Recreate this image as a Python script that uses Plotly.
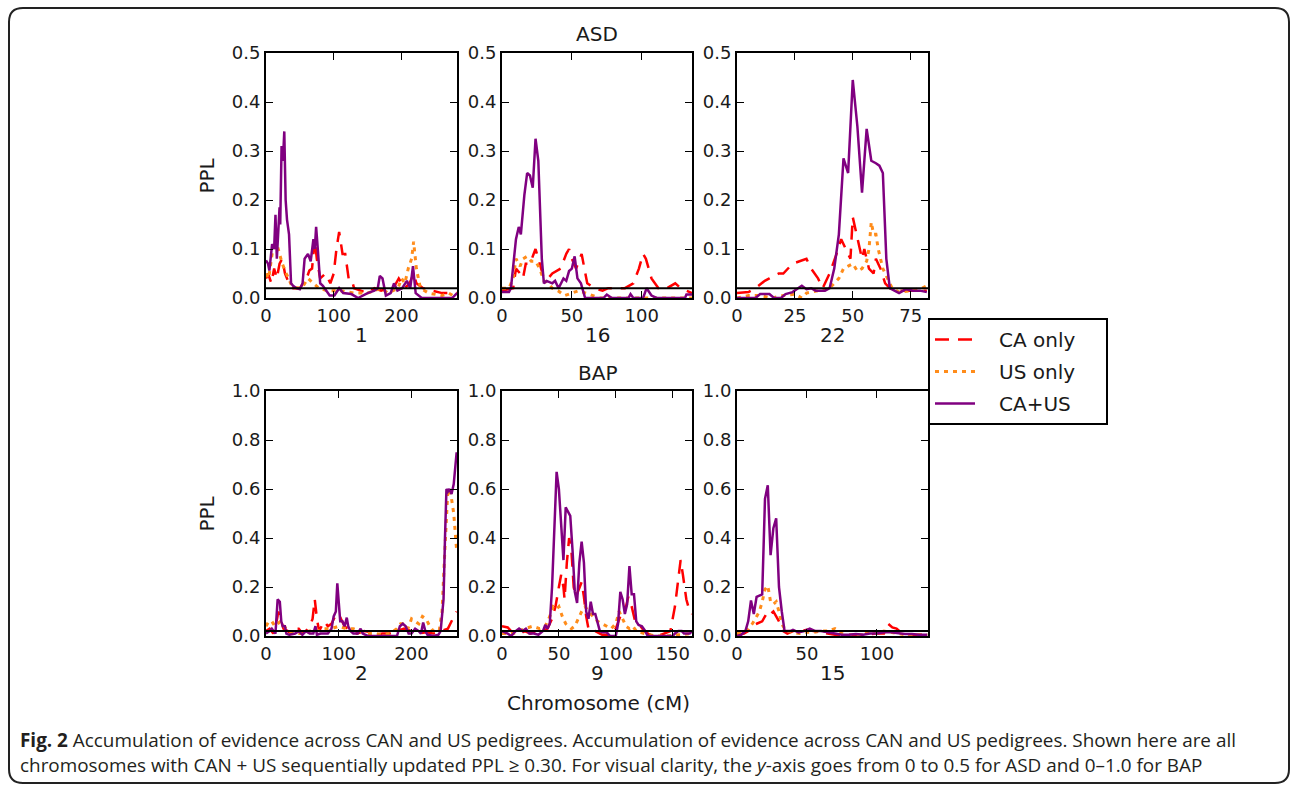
import plotly.graph_objects as go

# ---------------- data (cM, PPL) ----------------
# ASD chr1
chr1_ca = [(0,0.04),(3,0.05),(8,0.03),(12,0.06),(16,0.04),(20,0.07),(24,0.08),(28,0.05),(34,0.03),(40,0.02),
           (50,0.02),(60,0.04),(64,0.056),(68,0.06),(72,0.12),(75,0.08),(80,0.04),(88,0.05),(95,0.03),(100,0.05),
           (104,0.10),(108,0.135),(113,0.09),(117,0.09),(122,0.04),(126,0.04),(130,0.02),(140,0.015),(150,0.01),
           (160,0.02),(170,0.015),(180,0.02),(190,0.025),(196,0.04),(205,0.02),(212,0.03),(218,0.05),(222,0.03),
           (232,0.02),(245,0.015),(260,0.01),(282,0.01)]
chr1_us = [(0,0.05),(4,0.04),(10,0.10),(16,0.11),(20,0.09),(24,0.07),(30,0.05),(38,0.025),(45,0.02),(55,0.025),
           (62,0.04),(70,0.03),(78,0.02),(90,0.015),(110,0.015),(130,0.01),(150,0.01),(170,0.02),(180,0.01),
           (195,0.02),(200,0.04),(205,0.03),(210,0.06),(215,0.08),(218,0.115),(222,0.06),(228,0.02),(240,0.01),
           (260,0.005),(270,0.01),(282,0.0)]
chr1_caus = [(0,0.077),(3,0.07),(5,0.056),(9,0.11),(12,0.10),(14,0.17),(16,0.08),(18,0.15),(20,0.185),(21,0.15),
             (23,0.31),(25,0.28),(27,0.34),(29,0.20),(31,0.16),(34,0.13),(37,0.03),(40,0.025),(45,0.02),(50,0.018),
             (54,0.03),(57,0.08),(62,0.09),(66,0.075),(70,0.12),(72,0.10),(74,0.145),(77,0.09),(80,0.03),(84,0.025),
             (89,0.015),(94,0.005),(101,0.005),(108,0.02),(114,0.01),(126,0.008),(136,0.0),(150,0.01),(160,0.015),
             (165,0.02),(168,0.045),(172,0.04),(177,0.005),(184,0.01),(189,0.03),(194,0.015),(201,0.02),(208,0.035),
             (213,0.02),(217,0.065),(221,0.01),(230,0.0),(275,0.0),(282,0.01)]

# ASD chr16
chr16_ca = [(0,0.015),(8,0.02),(10,0.06),(13,0.05),(15,0.04),(17,0.07),(20,0.07),(24,0.10),(27,0.07),(30,0.04),
            (33,0.04),(36,0.05),(42,0.06),(46,0.09),(48,0.10),(50,0.08),(53,0.06),(57,0.09),(59,0.06),(61,0.03),
            (66,0.02),(72,0.015),(76,0.02),(82,0.02),(88,0.02),(94,0.03),(98,0.06),(101,0.09),(103,0.08),(107,0.04),
            (112,0.02),(118,0.02),(124,0.03),(128,0.02),(132,0.015),(136,0.01)]
chr16_us = [(0,0.02),(5,0.02),(8,0.04),(10,0.08),(13,0.065),(15,0.08),(18,0.085),(21,0.075),(24,0.075),(27,0.06),
            (30,0.035),(33,0.03),(36,0.02),(40,0.015),(45,0.005),(50,0.01),(55,0.015),(60,0.01),(70,0.0),(136,0.0)]
chr16_caus = [(0,0.012),(5,0.012),(6.4,0.02),(8,0.06),(10,0.12),(12,0.145),(13.5,0.13),(16,0.21),(18,0.255),
              (20,0.25),(22,0.225),(24,0.325),(26,0.28),(28.5,0.08),(30,0.03),(32,0.035),(36,0.03),(38,0.035),
              (40.5,0.02),(44,0.04),(46,0.035),(48,0.055),(50,0.06),(52,0.085),(54,0.04),(56.5,0.03),(59.5,0.0),
              (72.6,0.0),(75,0.007),(78.6,0.0),(90.5,0.0),(92,0.008),(94,0.0),(101,0.0),(103.5,0.02),(107,0.005),
              (110.7,0.0),(131,0.0),(132,0.007),(136,0.007)]

# ASD chr22
chr22_ca = [(0,0.01),(5,0.012),(8,0.02),(12,0.035),(14,0.04),(18,0.05),(20,0.05),(24,0.07),(27,0.075),(30,0.08),
            (32,0.06),(35,0.04),(37,0.02),(40,0.05),(43,0.09),(45,0.12),(47,0.10),(49,0.08),(50,0.165),(52,0.12),
            (54,0.08),(55,0.10),(57,0.06),(59,0.05),(60,0.08),(62,0.06),(64,0.03),(66,0.02),(70,0.015),(75,0.015),
            (82,0.015)]
chr22_us = [(0,0.0),(5,0.005),(10,0.005),(15,0.0),(20,0.005),(25,0.008),(28,0.0),(30,0.01),(35,0.015),(40,0.02),
            (44,0.04),(46,0.06),(48,0.065),(50,0.07),(52,0.055),(54,0.06),(56,0.075),(57,0.10),(58,0.155),(59,0.13),
            (60,0.13),(61,0.10),(62,0.08),(63,0.06),(65,0.04),(67,0.02),(70,0.012),(75,0.015),(80,0.02),(82,0.025)]
chr22_caus = [(0,0.0),(8,0.0),(10,0.008),(14,0.008),(16,0.0),(19,0.0),(21,0.008),(24,0.012),(27,0.022),(28,0.025),
              (30,0.018),(32,0.02),(34,0.015),(38,0.015),(40,0.02),(42,0.06),(44,0.13),(46,0.285),(48,0.255),
              (50,0.445),(52,0.35),(54,0.215),(56,0.345),(58,0.28),(60,0.275),(61.5,0.27),(63,0.255),(64.5,0.08),
              (66,0.02),(68,0.015),(70,0.01),(73,0.018),(76,0.015),(79,0.015),(82,0.012)]

# BAP chr2
chr2_ca = [(0,0.02),(5,0.03),(10,0.01),(14,0.05),(17,0.10),(20,0.07),(24,0.03),(30,0.02),(35,0.01),(40,0.03),
           (45,0.03),(50,0.01),(55,0.02),(60,0.04),(64,0.07),(67,0.15),(70,0.07),(73,0.02),(80,0.06),(85,0.04),
           (90,0.05),(95,0.08),(100,0.09),(103,0.07),(108,0.04),(112,0.03),(118,0.02),(125,0.01),(135,0.02),
           (145,0.015),(150,0.005),(160,0.01),(170,0.01),(180,0.02),(190,0.03),(200,0.02),(210,0.01),(220,0.015),
           (230,0.01),(240,0.02),(250,0.03),(255,0.06),(262,0.10)]
chr2_us = [(0,0.04),(4,0.06),(8,0.06),(12,0.04),(16,0.05),(20,0.06),(25,0.04),(30,0.02),(40,0.01),(50,0.01),
           (60,0.02),(70,0.02),(80,0.03),(90,0.03),(100,0.04),(110,0.03),(120,0.03),(130,0.02),(140,0.01),
           (150,0.01),(160,0.005),(170,0.01),(180,0.03),(185,0.05),(190,0.05),(195,0.03),(200,0.07),(205,0.06),
           (210,0.05),(215,0.08),(220,0.07),(225,0.04),(230,0.02),(238,0.02),(242,0.10),(245,0.30),(248,0.50),
           (250,0.60),(254,0.58),(258,0.50),(262,0.35)]
chr2_caus = [(0,0.01),(5,0.02),(8,0.03),(10,0.02),(13,0.01),(16,0.15),(19,0.14),(21,0.06),(23,0.04),(26,0.04),
             (28,0.01),(32,0.005),(40,0.01),(45,0.02),(50,0.005),(55,0.02),(60,0.01),(65,0.01),(68,0.04),(70,0.005),
             (75,0.01),(85,0.01),(90,0.03),(93,0.08),(96,0.10),(98,0.215),(100,0.15),(102,0.06),(105,0.06),
             (108,0.04),(111,0.075),(113,0.04),(116,0.02),(120,0.01),(126,0.01),(130,0.03),(133,0.01),(140,0.0),
             (180,0.0),(184,0.04),(188,0.05),(192,0.04),(196,0.01),(200,0.01),(205,0.03),(210,0.02),(213,0.01),
             (216,0.055),(219,0.02),(222,0.005),(230,0.0),(237,0.005),(240,0.02),(244,0.15),(246,0.40),(248,0.60),
             (250,0.59),(252,0.60),(255,0.58),(258,0.62),(262,0.75)]

# BAP chr9
chr9_ca = [(0,0.04),(5,0.035),(8,0.02),(12,0.01),(16,0.01),(20,0.02),(25,0.01),(30,0.02),(35,0.02),(40,0.03),
           (44,0.07),(47,0.12),(50,0.20),(52,0.25),(54,0.20),(55,0.15),(57,0.30),(59,0.40),(61,0.35),(63,0.20),
           (65,0.16),(68,0.20),(70,0.22),(72,0.16),(74,0.08),(76,0.03),(78,0.02),(82,0.02),(88,0.005),(95,0.005),
           (100,0.03),(104,0.08),(108,0.10),(111,0.16),(114,0.12),(117,0.06),(120,0.05),(125,0.02),(130,0.005),
           (140,0.005),(148,0.02),(152,0.12),(155,0.25),(157,0.31),(159,0.25),(162,0.15),(165,0.10),(167,0.09)]
chr9_us = [(0,0.01),(10,0.01),(20,0.03),(27,0.04),(33,0.03),(38,0.04),(42,0.08),(45,0.12),(48,0.11),(50,0.12),
           (53,0.08),(56,0.05),(58,0.04),(61,0.03),(64,0.04),(67,0.07),(70,0.10),(73,0.12),(76,0.10),(80,0.08),
           (84,0.06),(88,0.05),(92,0.04),(96,0.03),(100,0.05),(103,0.10),(106,0.07),(109,0.04),(112,0.03),
           (115,0.04),(118,0.02),(125,0.01),(135,0.0),(145,0.0),(155,0.005),(167,0.01)]
chr9_caus = [(0,0.02),(5,0.01),(8,0.0),(12,0.02),(15,0.03),(18,0.02),(21,0.03),(24,0.01),(28,0.01),(32,0.005),
             (36,0.02),(38,0.045),(40,0.03),(42,0.05),(44,0.20),(46,0.45),(48,0.67),(50,0.60),(52,0.45),(54,0.31),
             (56,0.525),(58,0.51),(60,0.49),(62,0.35),(64,0.18),(66,0.135),(68,0.30),(70,0.385),(72,0.30),(74,0.10),
             (76,0.07),(78,0.14),(80,0.09),(82,0.09),(84,0.06),(86,0.02),(88,0.015),(92,0.015),(95,0.0),(100,0.0),
             (102,0.05),(104,0.18),(106,0.15),(108,0.09),(110,0.13),(112,0.285),(114,0.17),(116,0.17),(118,0.06),
             (120,0.045),(123,0.04),(126,0.02),(128,0.0),(150,0.0),(152,0.01),(155,0.02),(158,0.02),(160,0.01),
             (165,0.01),(167,0.02)]

# BAP chr15
chr15_ca = [(0,0.005),(5,0.01),(8,0.02),(10,0.04),(14,0.05),(18,0.06),(20,0.08),(22,0.10),(24,0.09),(26,0.10),
            (28,0.08),(30,0.06),(33,0.02),(36,0.01),(40,0.02),(45,0.02),(50,0.025),(55,0.02),(60,0.015),(65,0.01),
            (70,0.005),(80,0.005),(90,0.005),(100,0.01),(105,0.01),(108,0.05),(111,0.035),(114,0.03),(118,0.01),
            (125,0.005),(136,0.005)]
chr15_us = [(0,0.01),(5,0.015),(8,0.03),(11,0.05),(14,0.08),(16,0.10),(18,0.14),(20,0.19),(22,0.205),(24,0.14),
            (26,0.13),(28,0.14),(30,0.10),(32,0.05),(35,0.02),(40,0.015),(45,0.01),(50,0.015),(55,0.015),(60,0.02),
            (65,0.02),(70,0.03),(75,0.01),(80,0.0),(90,0.005),(95,0.02),(100,0.01),(105,0.02),(110,0.015),
            (120,0.005),(130,0.005),(136,0.005)]
chr15_caus = [(0,0.0),(3,0.005),(6,0.02),(8,0.06),(10,0.145),(12,0.09),(14,0.16),(16,0.165),(18,0.17),(20,0.56),
              (22,0.615),(24,0.33),(26,0.44),(28,0.48),(30,0.20),(32,0.10),(34,0.02),(38,0.02),(40,0.025),
              (44,0.015),(48,0.02),(52,0.03),(56,0.02),(60,0.02),(66,0.015),(70,0.01),(75,0.005),(80,0.005),
              (85,0.008),(90,0.005),(95,0.01),(100,0.01),(105,0.015),(110,0.015),(115,0.01),(120,0.008),
              (125,0.008),(130,0.005),(136,0.005)]

chromosomes = ["1", "16", "22", "2", "9", "15"]
x_max = [282, 136, 82.5, 262.5, 167, 136.5]
x_dtick = [100, 50, 25, 100, 50, 50]
y_max = [0.5, 0.5, 0.5, 1.0, 1.0, 1.0]
threshold = 0.02
series_names = ["CA only", "US only", "CA+US"]
panel_data = [
    (chr1_ca, chr1_us, chr1_caus),
    (chr16_ca, chr16_us, chr16_caus),
    (chr22_ca, chr22_us, chr22_caus),
    (chr2_ca, chr2_us, chr2_caus),
    (chr9_ca, chr9_us, chr9_caus),
    (chr15_ca, chr15_us, chr15_caus),
]
caption_bold = "Fig. 2"
caption_l1 = (" Accumulation of evidence across CAN and US pedigrees. Accumulation of evidence across CAN and US "
              "pedigrees. Shown here are all")
caption_l2 = ("chromosomes with CAN + US sequentially updated PPL \u2265 0.30. For visual clarity, the <i>y</i>-axis "
              "goes from 0 to 0.5 for ASD and 0\u20131.0 for BAP")

# ---------------- layout helpers ----------------
W, H = 1290, 785
def px(x):
    return x / W
def py(y):
    return 1 - y / H

col_px = [(266, 457), (502, 692), (737, 928)]
row_px = [(53, 298), (391, 636)]

styles = [
    dict(color="#ff0000", width=2.5, dash="14px,9px"),
    dict(color="#ff8c1a", width=3, dash="4px,5px"),
    dict(color="#800080", width=2.5, dash="solid"),
]

FONT = "DejaVu Sans"
NB = "\u00a0"
fig = go.Figure()
layout_axes = {}
annotations = []
shapes = []

for i, (chrom, data) in enumerate(zip(chromosomes, panel_data)):
    r, c = divmod(i, 3)
    n = i + 1
    xa = "x" if n == 1 else f"x{n}"
    ya = "y" if n == 1 else f"y{n}"
    for s, (name, pts) in enumerate(zip(series_names, data)):
        fig.add_trace(go.Scatter(
            x=[p[0] for p in pts], y=[p[1] for p in pts], mode="lines",
            name=NB * 3 + name + NB * 4,
            line=dict(color=styles[s]["color"], width=styles[s]["width"], dash=styles[s]["dash"]),
            xaxis=xa, yaxis=ya, showlegend=(i == 0), legendgroup=name,
        ))
    fig.add_trace(go.Scatter(x=[0, x_max[i]], y=[threshold, threshold], mode="lines",
                             line=dict(color="black", width=2), xaxis=xa, yaxis=ya,
                             showlegend=False, hoverinfo="skip"))
    x0, x1 = col_px[c]
    y0, y1 = row_px[r]
    common = dict(showline=True, linecolor="black", linewidth=2, mirror="ticks", ticks="inside",
                  ticklen=7, tickwidth=1.2, tickcolor="black", showgrid=False, zeroline=False,
                  automargin=False, tickfont=dict(family=FONT, size=18, color="#1a1a1a"))
    layout_axes["xaxis" if n == 1 else f"xaxis{n}"] = dict(
        domain=[px(x0), px(x1)], anchor=ya, range=[0, x_max[i]], dtick=x_dtick[i], tick0=0, **common)
    layout_axes["yaxis" if n == 1 else f"yaxis{n}"] = dict(
        domain=[py(y1), py(y0)], anchor=xa, range=[0, y_max[i]], dtick=y_max[i] / 5, tick0=0,
        tickformat=".1f", **common)
    annotations.append(dict(text=chrom, x=px((x0 + x1) / 2), y=py(y1 + 37), xref="paper", yref="paper",
                            showarrow=False, font=dict(family=FONT, size=20, color="#1a1a1a"),
                            xanchor="center", yanchor="middle"))

for (y0, y1) in row_px:
    annotations.append(dict(text="PPL", x=px(206), y=py((y0 + y1) / 2), xref="paper", yref="paper",
                            showarrow=False, textangle=-90, font=dict(family=FONT, size=20, color="#1a1a1a"),
                            xanchor="center", yanchor="middle"))

annotations.append(dict(text="ASD", x=px(597), y=py(34), xref="paper", yref="paper", showarrow=False,
                        font=dict(family=FONT, size=20, color="#1a1a1a"), xanchor="center", yanchor="middle"))
annotations.append(dict(text="BAP", x=px(597), y=py(373), xref="paper", yref="paper", showarrow=False,
                        font=dict(family=FONT, size=20, color="#1a1a1a"), xanchor="center", yanchor="middle"))
annotations.append(dict(text="Chromosome (cM)", x=px(598), y=py(703), xref="paper", yref="paper",
                        showarrow=False, font=dict(family=FONT, size=20, color="#1a1a1a"),
                        xanchor="center", yanchor="middle"))

CAP = "Open Sans"
annotations.append(dict(text=f"<b>{caption_bold}</b>{caption_l1}", x=px(18), y=py(740), xref="paper",
                        yref="paper", showarrow=False, xanchor="left", yanchor="middle", align="left",
                        font=dict(family=CAP, size=18.9, color="#231f20")))
annotations.append(dict(text=caption_l2, x=px(18), y=py(765), xref="paper", yref="paper", showarrow=False,
                        xanchor="left", yanchor="middle", align="left",
                        font=dict(family=CAP, size=18.9, color="#231f20")))

# rounded card border
L, T, R, B, rad = 9, 8, 1289, 783, 14
path = (f"M {px(L)},{py(T+rad)} Q {px(L)},{py(T)} {px(L+rad)},{py(T)} "
        f"L {px(R-rad)},{py(T)} Q {px(R)},{py(T)} {px(R)},{py(T+rad)} "
        f"L {px(R)},{py(B-rad)} Q {px(R)},{py(B)} {px(R-rad)},{py(B)} "
        f"L {px(L+rad)},{py(B)} Q {px(L)},{py(B)} {px(L)},{py(B-rad)} Z")
shapes.append(dict(type="path", path=path, xref="paper", yref="paper",
                   line=dict(color="#222222", width=2), layer="below"))

fig.update_layout(
    width=W, height=H, margin=dict(l=0, r=0, t=0, b=0, pad=0, autoexpand=False), autosize=False,
    paper_bgcolor="white", plot_bgcolor="white",
    showlegend=True,
    legend=dict(x=px(928), y=py(318), xanchor="left", yanchor="top", bgcolor="white",
                bordercolor="black", borderwidth=2, font=dict(family=FONT, size=20, color="#1a1a1a"),
                tracegroupgap=3, itemwidth=40),
    annotations=annotations, shapes=shapes,
    **layout_axes,
)

fig.write_html("out.html", config={"displayModeBar": False, "responsive": False},
               post_script="document.body.style.margin='0';document.body.style.overflow='hidden';")
